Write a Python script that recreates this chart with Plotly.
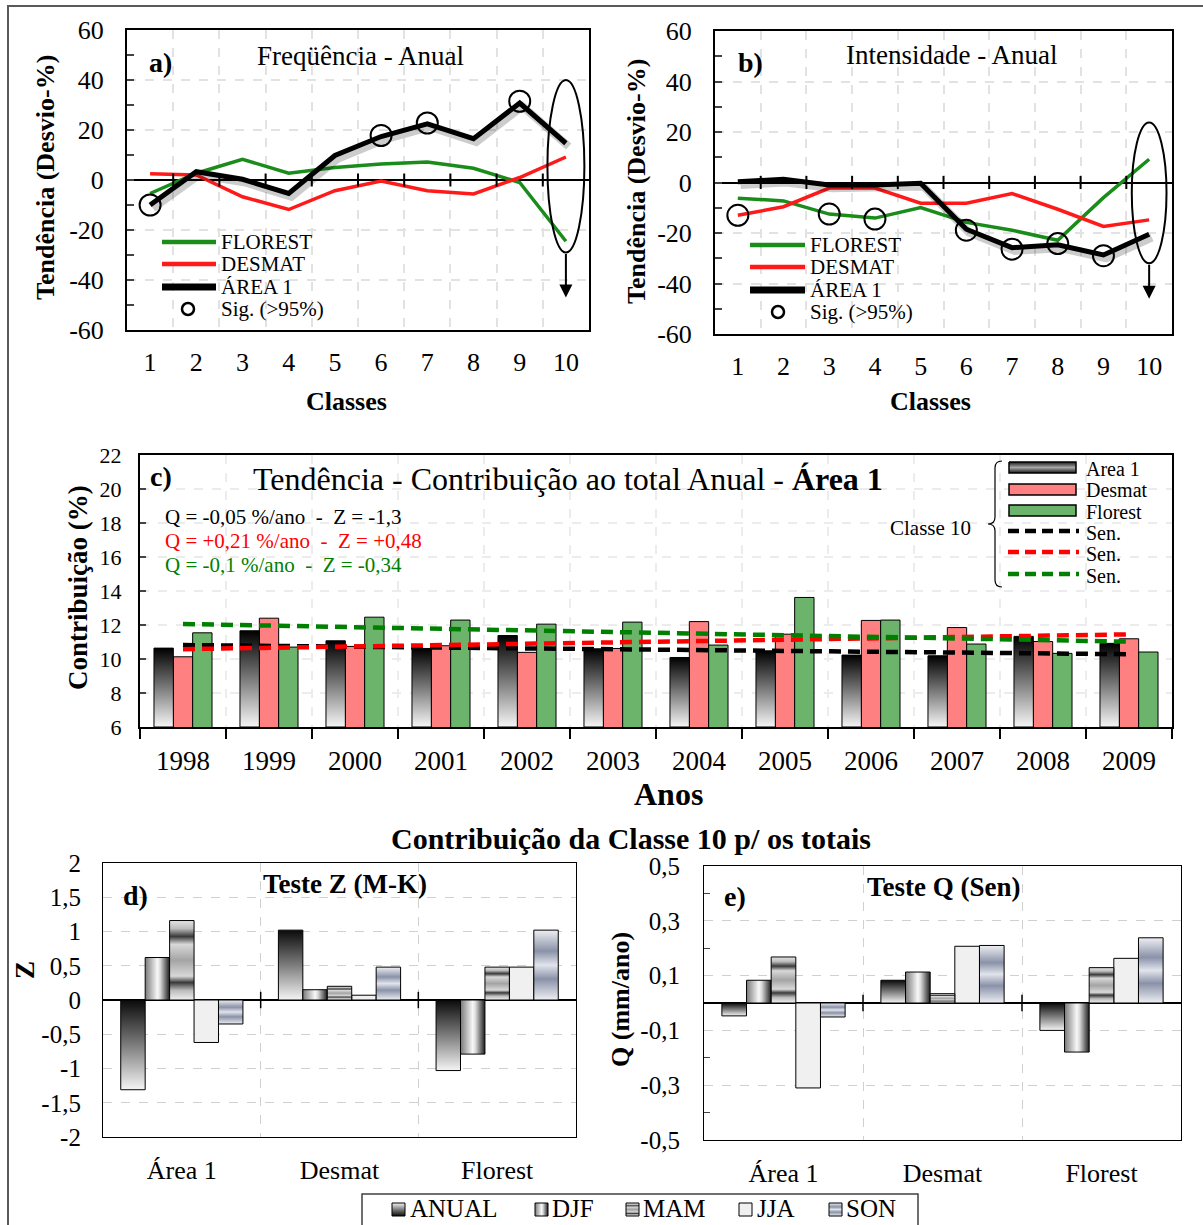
import plotly.graph_objects as go

W, H = 1203, 1225
SERIF = "Liberation Serif"

# ---------------- data ----------------
CLASSES = [1, 2, 3, 4, 5, 6, 7, 8, 9, 10]

A_FLOREST = [-5.4, 2.7, 8.3, 2.7, 5.0, 6.4, 7.2, 4.7, -1.0, -24.5]
A_DESMAT = [2.5, 2.0, -6.7, -11.8, -4.3, -0.4, -4.3, -5.6, 1.0, 9.2]
A_AREA1 = [-10.0, 3.3, 0.3, -5.4, 9.8, 17.4, 22.5, 16.5, 30.8, 14.7]
A_SIG_X = [1, 6, 7, 9]
A_SIG_Y = [-10.0, 17.8, 22.8, 31.5]

B_FLOREST = [-6.2, -7.3, -12.5, -14.1, -9.9, -15.8, -18.9, -22.9, -6.0, 9.2]
B_DESMAT = [-13.0, -9.6, -2.2, -2.2, -8.2, -8.2, -4.4, -10.6, -17.4, -14.8]
B_AREA1 = [0.3, 1.3, -1.0, -1.0, -0.3, -18.5, -25.8, -24.7, -28.7, -20.5]
B_SIG_X = [1, 3, 4, 6, 7, 8, 9]
B_SIG_Y = [-13.0, -12.5, -14.5, -18.9, -26.4, -24.2, -29.0]

AB_YTICKS = [60, 40, 20, 0, -20, -40, -60]
AB_YLABELS = ["60", "40", "20", "0", "-20", "-40", "-60"]

YEARS = [1998, 1999, 2000, 2001, 2002, 2003, 2004, 2005, 2006, 2007, 2008, 2009]
C_AREA1 = [10.64, 11.66, 11.07, 10.62, 11.38, 10.60, 10.09, 10.48, 10.23, 10.19, 11.33, 10.92]
C_DESMAT = [10.13, 12.40, 10.74, 10.78, 10.39, 10.62, 12.20, 11.46, 12.27, 11.85, 11.03, 11.19]
C_FLOREST = [11.54, 10.70, 12.46, 12.29, 12.05, 12.17, 10.82, 13.62, 12.29, 10.88, 10.33, 10.41]
SEN_AREA1 = [10.82, 10.28]     # Sen trend line value at first and last year
SEN_DESMAT = [10.58, 11.45]
SEN_FLOREST = [12.06, 11.02]
C_YTICKS = [6, 8, 10, 12, 14, 16, 18, 20, 22]

GROUPS = ["Área 1", "Desmat", "Florest"]
SEASONS = ["ANUAL", "DJF", "MAM", "JJA", "SON"]
Z_ANUAL = [-1.31, 1.02, -1.03]
Z_DJF = [0.62, 0.15, -0.79]
Z_MAM = [1.16, 0.20, 0.48]
Z_JJA = [-0.62, 0.07, 0.48]
Z_SON = [-0.35, 0.48, 1.02]
Q_ANUAL = [-0.047, 0.083, -0.100]
Q_DJF = [0.083, 0.113, -0.179]
Q_MAM = [0.168, 0.034, 0.129]
Q_JJA = [-0.310, 0.207, 0.163]
Q_SON = [-0.051, 0.210, 0.238]
D_YTICKS = [2, 1.5, 1, 0.5, 0, -0.5, -1, -1.5, -2]
D_YLABELS = ["2", "1,5", "1", "0,5", "0", "-0,5", "-1", "-1,5", "-2"]
E_YTICKS = [0.5, 0.3, 0.1, -0.1, -0.3, -0.5]
E_YLABELS = ["0,5", "0,3", "0,1", "-0,1", "-0,3", "-0,5"]

# ---------------- styles ----------------
GREEN_LINE = "#1a8c1a"
RED_LINE = "#ff1a1a"
PINK = "#ff8080"
GREEN_BAR = "#6cb46c"
GRID = "#e2e2e2"
GRID_D = "#d0d0d0"
C_BW = 0.225          # bar width (years) in panel c
D_BW = 0.155          # bar width (groups) in panels d/e

FILLS = {
    "ANUAL": ("vertical", [[0, "#f4f4f4"], [0.5, "#7c7c7c"], [1, "#0a0a0a"]]),
    "DJF": ("horizontal", [[0, "#7a7a7a"], [0.5, "#f8f8f8"], [0.62, "#d8d8d8"], [1, "#1e1e1e"]]),
    "MAM": ("vertical", [[0, "#f0f0f0"], [0.12, "#bcbcbc"], [0.22, "#3a3a3a"], [0.3, "#d8d8d8"],
                         [0.5, "#a4a4a4"], [0.7, "#d8d8d8"], [0.8, "#3a3a3a"], [0.9, "#bdbdbd"],
                         [1, "#e4e4e4"]]),
    "JJA": ("solid", "#f0f0f0"),
    "SON": ("vertical", [[0, "#eeeff3"], [0.3, "#8a92a8"], [0.5, "#e2e4ec"], [0.7, "#8a92a8"],
                         [1, "#eeeff3"]]),
}
C_AREA_FILL = [[0, "#f6f6f6"], [0.55, "#6e6e6e"], [1, "#000000"]]


def dom_x(a, b):
    return [a / W, b / W]


def dom_y(top, bottom):
    return [1 - bottom / H, 1 - top / H]


def flip(cs):
    return [[1 - p, c] for p, c in reversed(cs)]


def grad_poly(xs, ys, gtype, cs, xa, ya, lw=1):
    return go.Scatter(x=xs, y=ys, mode="lines", fill="toself",
                      fillgradient=dict(type=gtype, colorscale=cs),
                      line=dict(color="black", width=lw),
                      xaxis=xa, yaxis=ya, showlegend=False, hoverinfo="skip")


fig = go.Figure()

# ---------------- panels a & b ----------------
panels_ab = [
    ("x", "y", A_FLOREST, A_DESMAT, A_AREA1, A_SIG_X, A_SIG_Y),
    ("x2", "y2", B_FLOREST, B_DESMAT, B_AREA1, B_SIG_X, B_SIG_Y),
]
for xa, ya, flo, des, ar, sx, sy in panels_ab:
    fig.add_trace(go.Scatter(x=CLASSES, y=flo, mode="lines", line=dict(color=GREEN_LINE, width=3.5),
                             xaxis=xa, yaxis=ya, showlegend=False))
    fig.add_trace(go.Scatter(x=CLASSES, y=des, mode="lines", line=dict(color=RED_LINE, width=3.5),
                             xaxis=xa, yaxis=ya, showlegend=False))
    fig.add_trace(go.Scatter(x=[c + 0.06 for c in CLASSES], y=[v - 1.3 for v in ar], mode="lines",
                             line=dict(color="rgba(0,0,0,0.2)", width=8),
                             xaxis=xa, yaxis=ya, showlegend=False, hoverinfo="skip"))
    fig.add_trace(go.Scatter(x=CLASSES, y=ar, mode="lines", line=dict(color="black", width=5),
                             xaxis=xa, yaxis=ya, showlegend=False))
    fig.add_trace(go.Scatter(x=sx, y=sy, mode="markers",
                             marker=dict(symbol="circle-open", size=21, color="black", line=dict(width=2)),
                             xaxis=xa, yaxis=ya, showlegend=False))

# ---------------- panel c ----------------
for yr, v in zip(YEARS, C_AREA1):
    x0, x1 = yr - 1.5 * C_BW, yr - 0.5 * C_BW
    fig.add_trace(grad_poly([x0, x0, x1, x1, x0], [C_YTICKS[0], v, v, C_YTICKS[0], C_YTICKS[0]],
                            "vertical", C_AREA_FILL, "x3", "y3"))
fig.add_trace(go.Bar(x=YEARS, y=C_DESMAT, width=C_BW, offset=-0.5 * C_BW,
                     marker=dict(color=PINK, line=dict(color="black", width=1)),
                     xaxis="x3", yaxis="y3", showlegend=False))
fig.add_trace(go.Bar(x=YEARS, y=C_FLOREST, width=C_BW, offset=0.5 * C_BW,
                     marker=dict(color=GREEN_BAR, line=dict(color="black", width=1)),
                     xaxis="x3", yaxis="y3", showlegend=False))
for sen, col in [(SEN_AREA1, "black"), (SEN_DESMAT, "#ff0000"), (SEN_FLOREST, "#008000")]:
    fig.add_trace(go.Scatter(x=[YEARS[0], YEARS[-1]], y=sen, mode="lines",
                             line=dict(color=col, width=4.5, dash="12px,7px"),
                             xaxis="x3", yaxis="y3", showlegend=False))

# ---------------- panels d & e ----------------
for xa, ya, series in [("x4", "y4", [Z_ANUAL, Z_DJF, Z_MAM, Z_JJA, Z_SON]),
                       ("x5", "y5", [Q_ANUAL, Q_DJF, Q_MAM, Q_JJA, Q_SON])]:
    for k, (season, vals) in enumerate(zip(SEASONS, series)):
        gtype, cs = FILLS[season]
        if gtype == "solid":
            fig.add_trace(go.Bar(x=list(range(len(GROUPS))), y=vals, width=D_BW,
                                 offset=(-2.5 + k) * D_BW,
                                 marker=dict(color=cs, line=dict(color="black", width=1)),
                                 xaxis=xa, yaxis=ya, showlegend=False))
            continue
        for i, v in enumerate(vals):
            x0 = i + (-2.5 + k) * D_BW
            x1 = x0 + D_BW
            fig.add_trace(grad_poly([x0, x0, x1, x1, x0], [0, v, v, 0, 0], gtype, cs, xa, ya))

# ---------------- legend icons (overlay pixel axes) ----------------
for cx, cy in [(188, 309), (778, 312)]:
    fig.add_trace(go.Scatter(x=[cx], y=[cy], mode="markers",
                             marker=dict(symbol="circle-open", size=12, color="black", line=dict(width=2.5)),
                             xaxis="x6", yaxis="y6", showlegend=False, hoverinfo="skip"))
fig.add_trace(grad_poly([1009, 1009, 1076, 1076, 1009], [462, 473, 473, 462, 462], "vertical",
                        [[0, "#1a1a1a"], [0.5, "#a8a8a8"], [1, "#1a1a1a"]], "x6", "y6", lw=1.5))
LEG_ICON_X = [392, 535, 626, 739, 829]
LEG_TEXT_X = [408, 550, 641, 755, 844]
for season, ix in zip(SEASONS, LEG_ICON_X):
    gtype, cs = FILLS[season]
    xs = [ix, ix, ix + 13, ix + 13, ix]
    ys = [1203, 1216, 1216, 1203, 1203]
    if gtype == "solid":
        fig.add_trace(go.Scatter(x=xs, y=ys, mode="lines", fill="toself", fillcolor=cs,
                                 line=dict(color="black", width=1), xaxis="x6", yaxis="y6",
                                 showlegend=False, hoverinfo="skip"))
    else:
        fig.add_trace(grad_poly(xs, ys, gtype, flip(cs) if gtype == "vertical" else cs, "x6", "y6"))

# ---------------- shapes ----------------
shapes = []
for k in range(1, 10):
    for xa, ya in [("x", "y"), ("x2", "y2")]:
        shapes.append(dict(type="line", xref=xa, yref=ya, x0=k + 0.5, x1=k + 0.5, y0=-2.6, y1=2.6,
                           line=dict(color="black", width=2)))
for b in [0.5, 1.5]:
    shapes.append(dict(type="line", xref="x4", yref="y4", x0=b, x1=b, y0=-0.12, y1=0.12,
                       line=dict(color="black", width=1.5)))
    shapes.append(dict(type="line", xref="x5", yref="y5", x0=b, x1=b, y0=-0.03, y1=0.03,
                       line=dict(color="black", width=1.5)))
shapes.append(dict(type="circle", xref="x", yref="y", x0=9.6, x1=10.4, y0=-29, y1=40,
                   line=dict(color="black", width=2)))
shapes.append(dict(type="circle", xref="x2", yref="y2", x0=9.62, x1=10.38, y0=-32, y1=23.8,
                   line=dict(color="black", width=2)))
for (lx0, lx1, ys_) in [(162, 216, [242, 264, 287]), (750, 805, [245, 267, 290])]:
    for yy, col, w in zip(ys_, [GREEN_LINE, RED_LINE, "black"], [4.5, 4.5, 7]):
        shapes.append(dict(type="line", xref="x6", yref="y6", x0=lx0, x1=lx1, y0=yy, y1=yy,
                           line=dict(color=col, width=w)))
shapes.append(dict(type="rect", xref="x6", yref="y6", x0=1009, x1=1076, y0=484, y1=495,
                   fillcolor=PINK, line=dict(color="black", width=1.5)))
shapes.append(dict(type="rect", xref="x6", yref="y6", x0=1009, x1=1076, y0=505, y1=516,
                   fillcolor=GREEN_BAR, line=dict(color="black", width=1.5)))
for yy, col in zip([531, 552, 574], ["black", "#ff0000", "#008000"]):
    shapes.append(dict(type="line", xref="x6", yref="y6", x0=1008, x1=1079, y0=yy, y1=yy,
                       line=dict(color=col, width=4.5, dash="11px,6px")))
shapes.append(dict(type="path", xref="x6", yref="y6",
                   path="M 1002,461 Q 995,461 995,468 L 995,517 Q 995,524 988,524 "
                        "Q 995,524 995,531 L 995,580 Q 995,587 1002,587",
                   line=dict(color="black", width=1.2)))
shapes.append(dict(type="rect", xref="x6", yref="y6", x0=362, x1=918, y0=1194, y1=1245,
                   line=dict(color="#404040", width=1.5)))
shapes.append(dict(type="rect", xref="x6", yref="y6", x0=8, x1=1230, y0=6, y1=1250,
                   line=dict(color="#5a5a5a", width=2)))


# ---------------- annotations ----------------
def T(text, x, y, size, bold=False, color="black", xanchor="center", angle=0):
    return dict(text=f"<b>{text}</b>" if bold else text, x=x, y=y, xref="x6", yref="y6",
                showarrow=False, font=dict(family=SERIF, size=size, color=color),
                xanchor=xanchor, yanchor="middle", textangle=angle)


NB = "\u00a0"
ann = [
    T("a)", 160, 62, 28, bold=True),
    T("Freqüência - Anual", 360, 56, 27),
    T("Tendência (Desvio-%)", 45, 178, 26, bold=True, angle=-90),
    T("Classes", 346, 401, 26, bold=True),
    T("FLOREST", 219, 242, 21, xanchor="left"),
    T("DESMAT", 219, 264, 21, xanchor="left"),
    T("ÁREA 1", 219, 287, 21, xanchor="left"),
    T("Sig. (>95%)", 219, 309, 21, xanchor="left"),
    T("b)", 750, 62, 28, bold=True),
    T("Intensidade - Anual", 951, 55, 27),
    T("Tendência (Desvio-%)", 636, 182, 26, bold=True, angle=-90),
    T("Classes", 930, 401, 26, bold=True),
    T("FLOREST", 808, 245, 21, xanchor="left"),
    T("DESMAT", 808, 267, 21, xanchor="left"),
    T("ÁREA 1", 808, 290, 21, xanchor="left"),
    T("Sig. (>95%)", 808, 312, 21, xanchor="left"),
    T("c)", 161, 476, 28, bold=True),
    T("Tendência - Contribuição ao total Anual - <b>Área 1</b>", 568, 479, 32),
    T(f"Q = -0,05 %/ano {NB}-{NB} Z = -1,3", 163, 517, 21, xanchor="left"),
    T(f"Q = +0,21 %/ano {NB}-{NB} Z = +0,48", 163, 541, 21, color="#ff0000", xanchor="left"),
    T(f"Q = -0,1 %/ano {NB}-{NB} Z = -0,34", 163, 565, 21, color="#008000", xanchor="left"),
    T("Contribuição (%)", 78, 588, 27, bold=True, angle=-90),
    T("Anos", 668, 794, 32, bold=True),
    T("Classe 10", 930, 528, 21),
    T("Area 1", 1084, 469, 20, xanchor="left"),
    T("Desmat", 1084, 490, 20, xanchor="left"),
    T("Florest", 1084, 512, 20, xanchor="left"),
    T("Sen.", 1084, 533, 20, xanchor="left"),
    T("Sen.", 1084, 554, 20, xanchor="left"),
    T("Sen.", 1084, 576, 20, xanchor="left"),
    T("Contribuição da Classe 10 p/ os totais", 631, 838, 30, bold=True),
    T("d)", 135, 895, 28, bold=True),
    T("Teste Z (M-K)", 345, 884, 27, bold=True),
    T("Z", 25, 970, 27, bold=True, angle=-90),
    T("e)", 735, 896, 28, bold=True),
    T("Teste Q (Sen)", 944, 887, 27, bold=True),
    T("Q (mm/ano)", 620, 1000, 26, bold=True, angle=-90),
]
for season, tx in zip(SEASONS, LEG_TEXT_X):
    ann.append(T(season, tx, 1208, 25, xanchor="left"))
for xa, ya, y_tail, y_head in [("x", "y", -29, -47), ("x2", "y2", -32, -46)]:
    ann.append(dict(x=10, y=y_head, ax=10, ay=y_tail, xref=xa, yref=ya, axref=xa, ayref=ya,
                    showarrow=True, arrowhead=2, arrowsize=1.3, arrowwidth=2, arrowcolor="black",
                    text=""))


# ---------------- axes ----------------
def tf(size):
    return dict(family=SERIF, size=size, color="black")


def ab_axes(xdom, ydom):
    xa = dict(domain=xdom, range=[0.5, 10.5], tickmode="array", tickvals=CLASSES, ticks="",
              showgrid=False, zeroline=False, showline=True, mirror=True, linecolor="black",
              linewidth=2, tickfont=tf(26), ticklabelstandoff=8, automargin=False,
              minor=dict(tickmode="array", tickvals=[k + 0.5 for k in range(1, 10)], showgrid=True,
                         gridcolor=GRID, griddash="dash", gridwidth=1.5, ticks=""))
    ya = dict(domain=ydom, range=[-60, 60], tickmode="array", tickvals=AB_YTICKS, ticktext=AB_YLABELS,
              ticks="inside", ticklen=7, tickwidth=2, showgrid=True, gridcolor=GRID, griddash="dash",
              gridwidth=1.5, zeroline=True, zerolinecolor="black", zerolinewidth=2, showline=True,
              mirror=True, linecolor="black", linewidth=2, tickfont=tf(26), ticklabelstandoff=16,
              automargin=False,
              minor=dict(tickmode="array", tickvals=[50, 30, 10, -10, -30, -50], ticks="inside",
                         ticklen=7, tickwidth=2, showgrid=False))
    return xa, ya


xa1, ya1 = ab_axes(dom_x(127, 589), dom_y(30, 330))
xa2, ya2 = ab_axes(dom_x(715, 1172), dom_y(31, 334))
xa1["anchor"], ya1["anchor"] = "y", "x"
xa2["anchor"], ya2["anchor"] = "y2", "x2"

xa3 = dict(domain=dom_x(140, 1172), anchor="y3", range=[1997.5, 2009.5], tickmode="array", tickvals=YEARS,
           ticktext=[str(y) for y in YEARS], ticks="", showgrid=False, zeroline=False, showline=True,
           mirror=True, linecolor="black", linewidth=2, tickfont=tf(27), ticklabelstandoff=9,
           automargin=False,
           minor=dict(tickmode="array", tickvals=[y - 0.5 for y in YEARS] + [YEARS[-1] + 0.5],
                      ticks="outside", ticklen=10, tickwidth=2, tickcolor="black", showgrid=True,
                      gridcolor="#ececec", griddash="dash", gridwidth=1.5))
ya3 = dict(domain=dom_y(455, 727), anchor="x3", range=[6, 22], tickmode="array", tickvals=C_YTICKS,
           ticks="inside", ticklen=6, tickwidth=1.5, showgrid=True, gridcolor="#ececec", griddash="dash",
           gridwidth=1.5, zeroline=False, showline=True, mirror=True, linecolor="black", linewidth=2,
           tickfont=tf(22), ticklabelstandoff=12, automargin=False)


def de_axes(xdom, ydom, anchor_x, anchor_y, yr, tv, tt, std, minor_vals):
    xa = dict(domain=xdom, anchor=anchor_y, range=[-0.5, 2.5], tickmode="array", tickvals=[0, 1, 2],
              ticktext=GROUPS, ticks="", showgrid=False, zeroline=False, showline=True, mirror=True,
              linecolor="black", linewidth=1.2, tickfont=tf(26), ticklabelstandoff=10, automargin=False,
              minor=dict(tickmode="array", tickvals=[0.5, 1.5], showgrid=True, gridcolor=GRID_D,
                         griddash="dash", gridwidth=1.2, ticks=""))
    ya = dict(domain=ydom, anchor=anchor_x, range=yr, tickmode="array", tickvals=tv, ticktext=tt,
              ticks="", showgrid=True, gridcolor=GRID_D, griddash="dash", gridwidth=1.2,
              zeroline=True, zerolinecolor="black", zerolinewidth=1.5, showline=True, mirror=True,
              linecolor="black", linewidth=1.2, tickfont=tf(25), ticklabelstandoff=std, automargin=False)
    if minor_vals:
        ya["minor"] = dict(tickmode="array", tickvals=minor_vals, ticks="inside", ticklen=6,
                           tickwidth=1.2, showgrid=False)
    return xa, ya


xa4, ya4 = de_axes(dom_x(103, 576), dom_y(863, 1137), "x4", "y4", [-2, 2], D_YTICKS, D_YLABELS, 16, None)
xa5, ya5 = de_axes(dom_x(704, 1181), dom_y(866, 1140), "x5", "y5", [-0.5, 0.5], E_YTICKS, E_YLABELS, 18,
                   [0.4, 0.2, -0.2, -0.4])

xa6 = dict(domain=[0, 1], anchor="y6", range=[0, W], visible=False, fixedrange=True, automargin=False)
ya6 = dict(domain=[0, 1], anchor="x6", range=[H, 0], visible=False, fixedrange=True, automargin=False)

fig.update_layout(
    width=W, height=H, margin=dict(l=0, r=0, t=0, b=0, pad=0, autoexpand=False),
    paper_bgcolor="white", plot_bgcolor="rgba(0,0,0,0)",
    barmode="overlay", showlegend=False,
    font=dict(family=SERIF, color="black"),
    xaxis=xa1, yaxis=ya1, xaxis2=xa2, yaxis2=ya2, xaxis3=xa3, yaxis3=ya3,
    xaxis4=xa4, yaxis4=ya4, xaxis5=xa5, yaxis5=ya5, xaxis6=xa6, yaxis6=ya6,
    shapes=shapes, annotations=ann,
)

# show the figure at its own size in the page's top-left corner (no page margin)
PIN = "document.body.style.margin='0';document.body.style.overflow='hidden';"
fig.write_html("out.html", post_script=PIN, config={"displayModeBar": False})
